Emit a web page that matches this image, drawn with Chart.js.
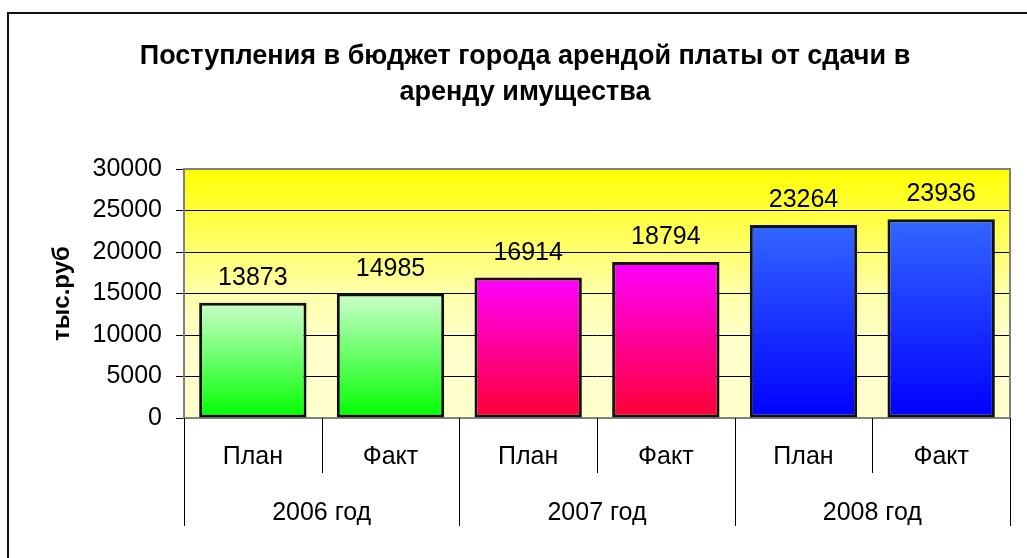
<!DOCTYPE html>
<html><head><meta charset="utf-8">
<script src="https://cdn.jsdelivr.net/npm/chart.js@4"></script>
<style>
html,body{margin:0;padding:0;background:#fff;overflow:hidden}
#wrap{position:absolute;left:0;top:0;width:1027px;height:558px;overflow:hidden}
#frame{position:absolute;left:7px;top:12px;width:1100px;height:600px;border:2px solid #111;box-sizing:border-box}
canvas{position:absolute;left:0;top:0}
</style></head><body>
<div id="wrap"><div id="frame"></div><canvas id="c" width="1027" height="558"></canvas></div>
<script>
// ---- data ----
const titleLines = ['Поступления в бюджет города арендой платы от сдачи в', 'аренду имущества'];
const yAxisTitle = 'тыс.руб';
const categories = ['План', 'Факт', 'План', 'Факт', 'План', 'Факт'];
const years = ['2006 год', '2007 год', '2008 год'];
const values = [13873, 14985, 16914, 18794, 23264, 23936];
const yMin = 0, yMax = 30000, yStep = 5000;

// ---- styles ----
const FONT = '"Liberation Sans", Arial, sans-serif';
const groupTop = ['#CCFFCC', '#FF00FF', '#3366FF'];
const groupBottom = ['#00FF00', '#FF0033', '#0000FF'];

const bgPlugin = {
  id: 'bg',
  beforeDraw(chart) {
    const {ctx, chartArea: a} = chart;
    const g = ctx.createLinearGradient(0, a.top, 0, a.bottom);
    g.addColorStop(0, '#FFFF00');
    g.addColorStop(0.5, '#FFFFAA');
    g.addColorStop(0.72, '#FFFFCC');
    g.addColorStop(1, '#FFFFCC');
    ctx.save(); ctx.fillStyle = g;
    ctx.fillRect(a.left, a.top, a.right - a.left, a.bottom - a.top);
    ctx.restore();
  },
  beforeDatasetsDraw(chart) {
    const {ctx, chartArea: a} = chart;
    ctx.save(); ctx.strokeStyle = '#808080'; ctx.lineWidth = 2;
    ctx.strokeRect(a.left, a.top, a.right - a.left, a.bottom - a.top);
    ctx.restore();
  },
  afterDraw(chart) {
    const {ctx, scales} = chart;
    const xs = scales.x, x2 = scales.x2;
    ctx.save(); ctx.strokeStyle = '#000'; ctx.lineWidth = 1;
    for (let i = 0; i <= categories.length; i++) {
      const px = Math.round(xs.getPixelForValue(i - 0.5)) + 0.5;
      const bottom = (i % 2 === 0) ? x2.bottom : xs.bottom;
      ctx.beginPath(); ctx.moveTo(px, xs.top); ctx.lineTo(px, bottom); ctx.stroke();
    }
    ctx.restore();
  }
};

const labelPlugin = {
  id: 'vals',
  afterDatasetsDraw(chart) {
    const {ctx} = chart;
    const meta = chart.getDatasetMeta(0);
    ctx.save();
    ctx.font = '25px ' + FONT; ctx.fillStyle = '#000';
    ctx.textAlign = 'center'; ctx.textBaseline = 'alphabetic';
    meta.data.forEach((el, i) => {
      ctx.fillText(String(values[i]), el.x, el.y - 18);
    });
    ctx.restore();
  }
};

new Chart(document.getElementById('c'), {
  type: 'bar',
  data: {
    labels: categories,
    datasets: [{
      data: values,
      backgroundColor: (c) => {
        const chart = c.chart, ys = chart.scales.y, i = c.dataIndex;
        const grp = Math.floor((i || 0) / 2);
        if (!ys || i === undefined) return groupBottom[grp];
        const top = ys.getPixelForValue(values[i]), bot = ys.getPixelForValue(0);
        if (!isFinite(top) || !isFinite(bot) || top === bot) return groupBottom[grp];
        const g = chart.ctx.createLinearGradient(0, top, 0, bot);
        g.addColorStop(0, groupTop[grp]);
        g.addColorStop(1, groupBottom[grp]);
        return g;
      },
      borderColor: '#111',
      borderWidth: 3,
      borderSkipped: false,
      barPercentage: 0.78,
      categoryPercentage: 1.0
    }]
  },
  options: {
    responsive: false,
    animation: false,
    devicePixelRatio: 1,
    layout: {padding: {left: 40, right: 17, top: 0, bottom: 32}},
    plugins: {
      legend: {display: false},
      tooltip: {enabled: false},
      title: {
        display: true,
        text: titleLines,
        color: '#000',
        font: {family: FONT, size: 27, weight: 'bold', lineHeight: 36 / 27},
        padding: {top: 39, bottom: 58}
      }
    },
    scales: {
      y: {
        min: yMin, max: yMax,
        ticks: {stepSize: yStep, color: '#000', font: {family: FONT, size: 25}, padding: 14,
                callback: (v) => String(v)},
        grid: {color: '#000', lineWidth: 1, tickLength: 8},
        border: {display: true, color: '#808080', width: 2},
        title: {display: true, text: yAxisTitle, color: '#000',
                font: {family: FONT, size: 24, weight: 'bold'}, padding: {top: 8, bottom: 0}},
        afterFit(s) { s.width = 144; }
      },
      x: {
        position: 'bottom', weight: 0,
        grid: {display: false, drawTicks: false},
        border: {display: true, color: '#808080', width: 2},
        ticks: {color: '#000', font: {family: FONT, size: 25}, padding: 24, maxRotation: 0, autoSkip: false},
        afterFit(s) { s.height = 55; }
      },
      x2: {
        type: 'category', position: 'bottom', weight: 1,
        labels: years, offset: true,
        grid: {display: false, drawTicks: false},
        border: {display: false},
        ticks: {color: '#000', font: {family: FONT, size: 25}, padding: 25, maxRotation: 0, autoSkip: false},
        afterFit(s) { s.height = 53; }
      }
    }
  },
  plugins: [bgPlugin, labelPlugin]
});
</script>
</body></html>
